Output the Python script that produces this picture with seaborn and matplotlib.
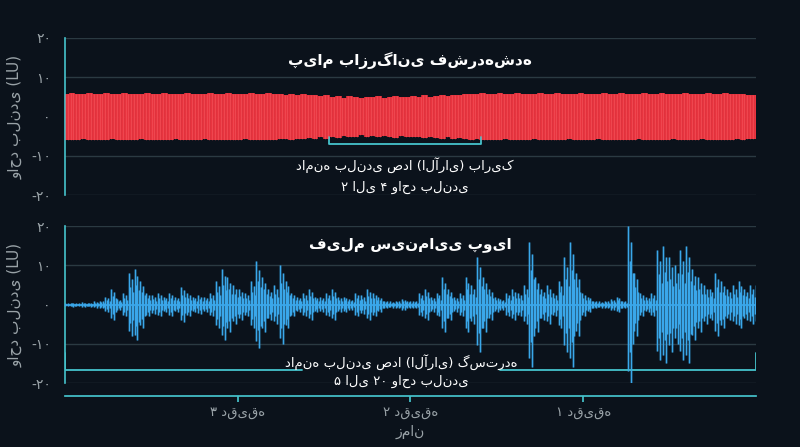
import numpy as np
import matplotlib
matplotlib.use("Agg")
import matplotlib.pyplot as plt
import seaborn as sns

# envelope of compressed commercial (LU), left (4 min) to right (0 min)
commercial_env = [5.8,5.9,5.8,5.7,5.9,5.8,5.8,5.9,5.7,5.8,5.9,5.8,5.8,5.7,5.9,5.8,5.8,5.9,5.8,5.7,
                  5.8,5.9,5.8,5.8,5.7,5.9,5.8,5.8,5.9,5.8,5.8,5.7,5.9,5.8,5.8,5.9,5.8,5.7,5.6,5.8,
                  5.5,5.7,5.4,5.6,5.2,5.5,5.0,5.3,4.8,5.2,5.0,4.7,5.1,4.9,5.2,4.8,5.0,5.3,4.9,5.1,
                  5.2,5.0,5.4,5.1,5.3,5.5,5.2,5.6,5.4,5.7,5.8,5.7,5.9,5.8,5.8,5.9,5.7,5.8,5.9,5.8,
                  5.8,5.7,5.9,5.8,5.8,5.9,5.8,5.7,5.8,5.9,5.8,5.8,5.7,5.9,5.8,5.8,5.9,5.8,5.8,5.7,
                  5.9,5.8,5.8,5.9,5.8,5.7,5.8,5.9,5.8,5.8,5.7,5.9,5.8,5.8,5.9,5.8,5.7,5.8,5.6,5.5]
# envelope of dynamic film (LU)
film_env = [0.4,0.5,0.4,0.6,0.5,0.8,1.0,2,4,1.5,3,8,9,6,3,2.5,3,2,3,2,
            4.5,3,2,2.5,2,3,6,9,7,5,4,3,6,11,7,4,5,10,6,3,
            2,3,4,2,2,3,4,2,2,1.5,3,2.5,4,3,2,1,0.8,1,1.5,1,
            1,3,4,2,3,7,4,2,3,7,5,12,7,4,2,1.5,3,4,3,5,
            16,7,4,5,3,6,12,16,8,3,2,1,0.8,1,1.5,2,1,20,8,3,
            2,3,14,15,12,10,14,15,9,7,5,4,8,6,4,5,6,4,5,5]
y_ticks = [20, 10, 0, -10, -20]
y_tick_labels = ["۲۰", "۱۰", "۰", "-۱۰", "-۲۰"]
x_ticks = [3, 2, 1]
x_tick_labels = ["۳ دقیقه", "۲ دقیقه", "۱ دقیقه"]

BG = "#0b121b"
TEAL = "#45c3cc"
GRID = "#2b3a42"
RED = "#e8343f"
BLUE = "#3aa7ea"

sns.set_theme(style="dark")
plt.rcParams['font.family'] = ['DejaVu Sans']

fig, axes = plt.subplots(2, 1, figsize=(8, 4.47), dpi=100)
fig.patch.set_facecolor(BG)
fig.subplots_adjust(left=0.081, right=0.945, top=0.915, bottom=0.143, hspace=0.197)

def setup(ax):
    ax.set_facecolor(BG)
    ax.set_xlim(4, 0)
    ax.set_ylim(-20, 20)
    for y in y_ticks:
        ax.axhline(y, color=GRID, lw=1, zorder=0)
    ax.set_yticks(y_ticks)
    ax.set_yticklabels(y_tick_labels, fontsize=10)
    ax.tick_params(axis='y', colors=TEAL, length=4, labelcolor="#9aa3a8", pad=6)
    for s in ["top", "right", "bottom"]:
        ax.spines[s].set_visible(False)
    ax.spines["left"].set_color(TEAL)
    ax.spines["left"].set_linewidth(1.2)
    ax.set_ylabel("واحد بلندی (LU)", color="#9aa3a8", fontsize=11, labelpad=6)
    ax.grid(False)

ax1, ax2 = axes
setup(ax1); setup(ax2)

n1 = len(commercial_env)
x1 = np.linspace(4, 0, n1 * 2)
env1 = np.repeat(commercial_env, 2)
ax1.vlines(x1, -np.array(env1) - 0.1, env1, color=RED, lw=2.6, zorder=2)
ax1.vlines(x1, -np.array(env1) - 0.1, env1, color="#ff6b70", lw=0.4, alpha=0.6, zorder=3)
ax1.set_xticks([])
ax1.text(2.0, 14.4, "پیام بازرگانی فشرده‌شده", color="white", fontsize=11, fontweight="bold", ha="center", va="center")
ax1.plot([2.47, 2.47, 1.59, 1.59], [-5.2, -7.0, -7.0, -5.2], color=TEAL, lw=1.3)
ax1.text(2.03, -12.4, "دامنه بلندی صدا (ال‌آرای) باریک", color="white", fontsize=9.5, ha="center", va="center")
ax1.text(2.03, -18, "۲ الی ۴ واحد بلندی", color="white", fontsize=9.5, ha="center", va="center")

# draw each film envelope sample as a small cluster of strokes (style only)
n2 = len(film_env)
step = 4.0 / n2
x2 = np.linspace(4, 0, n2)
fenv = np.array(film_env)
pattern = [(0.0, 1.0, 0.85), (0.25, 0.55, 0.6), (0.5, 0.8, 1.0), (0.75, 0.4, 0.5)]
for off, up, dn in pattern:
    xs = x2 - off * step
    ax2.vlines(xs, -fenv * dn, fenv * up, color=BLUE, lw=2.2, alpha=0.25, zorder=2)
    ax2.vlines(xs, -fenv * dn, fenv * up, color=BLUE, lw=0.9, zorder=3)
ax2.axhline(0, color=BLUE, lw=1.2, zorder=2)
ax2.text(2.0, 15.4, "فیلم سینمایی پویا", color="white", fontsize=11, fontweight="bold", ha="center", va="center")
ax2.plot([4, 4, 2.63], [-12.4, -16.7, -16.7], color=TEAL, lw=1.3)
ax2.plot([1.48, 0, 0], [-16.7, -16.7, -12.4], color=TEAL, lw=1.3)
ax2.text(2.05, -14.6, "دامنه بلندی صدا (ال‌آرای) گسترده", color="white", fontsize=9.5, ha="center", va="center")
ax2.text(2.05, -19.5, "۵ الی ۲۰ واحد بلندی", color="white", fontsize=9.5, ha="center", va="center")

ax2.spines["bottom"].set_visible(True)
ax2.spines["bottom"].set_color(TEAL)
ax2.spines["bottom"].set_position(("data", -23.3))
ax2.set_xticks(x_ticks)
ax2.set_xticklabels(x_tick_labels, fontsize=9.5)
ax2.tick_params(axis='x', colors=TEAL, length=4, labelcolor="#9aa3a8", bottom=True)
ax2.set_xlabel("زمان", color="#9aa3a8", fontsize=10, labelpad=4)

fig.savefig("out.png", dpi=100, facecolor=BG)
